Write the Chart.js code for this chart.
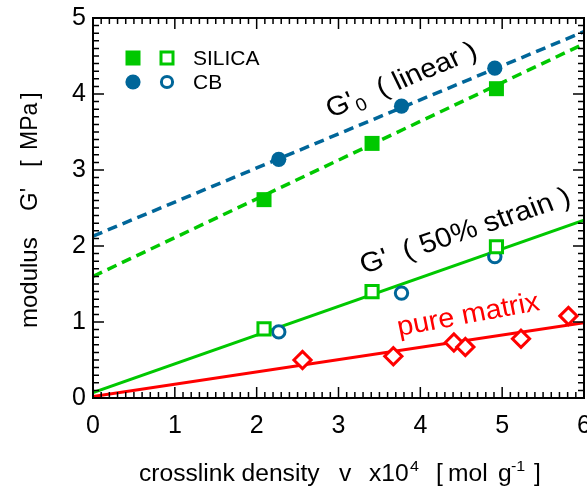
<!DOCTYPE html>
<html>
<head>
<meta charset="utf-8">
<script src="https://cdn.jsdelivr.net/npm/chart.js@4.4.1/dist/chart.umd.min.js"></script>
<style>
  html, body { margin: 0; padding: 0; background: #fff; }
  #wrap { width: 587px; height: 487px; }
</style>
</head>
<body>
<div id="wrap"><canvas id="c" width="587" height="487"></canvas></div>
<script>
// ---- data ----
const silicaG0X  = [2.09, 3.41, 4.93];
const silicaG0Y  = [2.61, 3.35, 4.07];
const cbG0X      = [2.27, 3.77, 4.91];
const cbG0Y      = [3.14, 3.84, 4.34];
const silicaG50X = [2.09, 3.41, 4.93];
const silicaG50Y = [0.91, 1.40, 1.99];
const cbG50X     = [2.27, 3.77, 4.91];
const cbG50Y     = [0.87, 1.38, 1.86];
const matrixX    = [2.56, 3.67, 4.41, 4.55, 5.23, 5.81];
const matrixY    = [0.50, 0.55, 0.73, 0.67, 0.78, 1.08];
// fitted straight lines, given by their values at the ends of the x range
const fitX       = [0, 6];
const cbG0Fit    = [2.13, 4.82];
const silicaG0Fit= [1.60, 4.66];
const g50Fit     = [0.07, 2.34];
const matrixFit  = [0.02, 0.99];
const xTicks     = [0, 1, 2, 3, 4, 5, 6];
const yTicks     = [0, 1, 2, 3, 4, 5];

const GREEN = '#00c800';
const BLUE  = '#006699';
const RED   = '#ff0000';
const FAMILY = '"Liberation Sans", Arial, sans-serif';

const pts = (xs, ys) => xs.map((x, i) => ({ x: x, y: ys[i] }));

const datasets = [
  { data: pts(silicaG0X, silicaG0Y), pointStyle: 'rect', pointRadius: 10.6, backgroundColor: GREEN, borderColor: GREEN, borderWidth: 0, showLine: false },
  { data: pts(cbG0X, cbG0Y), pointStyle: 'circle', pointRadius: 7.6, backgroundColor: BLUE, borderColor: BLUE, borderWidth: 0, showLine: false },
  { data: pts(silicaG50X, silicaG50Y), pointStyle: 'rect', pointRadius: 8.6, backgroundColor: '#fff', borderColor: GREEN, borderWidth: 3, showLine: false },
  { data: pts(cbG50X, cbG50Y), pointStyle: 'circle', pointRadius: 6.2, backgroundColor: '#fff', borderColor: BLUE, borderWidth: 3, showLine: false },
  { data: pts(matrixX, matrixY), pointStyle: 'rectRot', pointRadius: 8.6, backgroundColor: '#fff', borderColor: RED, borderWidth: 3, showLine: false },
  { data: pts(fitX, cbG0Fit), showLine: true, pointRadius: 0, borderColor: BLUE, borderWidth: 3.5, borderDash: [10, 6] },
  { data: pts(fitX, silicaG0Fit), showLine: true, pointRadius: 0, borderColor: GREEN, borderWidth: 3.5, borderDash: [10, 6] },
  { data: pts(fitX, g50Fit), showLine: true, pointRadius: 0, borderColor: GREEN, borderWidth: 3 },
  { data: pts(fitX, matrixFit), showLine: true, pointRadius: 0, borderColor: RED, borderWidth: 3 }
];

// draw a sequence of text runs along a (possibly rotated, horizontally stretched) baseline.
// a run may carry "at": its start offset along the baseline, otherwise it follows the previous run.
function drawRuns(ctx, runs, x, y, angleDeg, sx, color) {
  ctx.save();
  ctx.translate(x, y);
  ctx.scale(sx, 1);
  ctx.rotate(-angleDeg * Math.PI / 180);
  ctx.fillStyle = color;
  ctx.textBaseline = 'alphabetic';
  ctx.textAlign = 'left';
  let cx = 0;
  for (const r of runs) {
    ctx.font = r.size + 'px ' + FAMILY;
    if (r.at !== undefined) cx = r.at;
    ctx.fillText(r.t, cx, r.dy || 0);
    cx += ctx.measureText(r.t).width;
  }
  ctx.restore();
}

const framePlugin = {
  id: 'frame',
  afterDraw(chart) {
    const ctx = chart.ctx;
    const xs = chart.scales.x, ys = chart.scales.y;
    const L = chart.chartArea.left, R = chart.chartArea.right;
    const T = chart.chartArea.top, B = chart.chartArea.bottom;
    ctx.save();
    ctx.strokeStyle = '#000';
    // inward ticks on all four sides
    ctx.lineWidth = 1.5;
    ctx.beginPath();
    for (let i = 0; i <= 60; i++) {
      const v = i / 10;
      const len = (i % 10 === 0) ? 11 : 6;
      const px = xs.getPixelForValue(v);
      ctx.moveTo(px, B); ctx.lineTo(px, B - len);
      ctx.moveTo(px, T); ctx.lineTo(px, T + len);
    }
    for (let i = 0; i <= 50; i++) {
      const v = i / 10;
      const len = (i % 10 === 0) ? 11 : 6;
      const py = ys.getPixelForValue(v);
      ctx.moveTo(L, py); ctx.lineTo(L + len, py);
      ctx.moveTo(R, py); ctx.lineTo(R - len, py);
    }
    ctx.stroke();
    ctx.lineWidth = 2;
    ctx.strokeRect(L, T, R - L, B - T);

    // legend
    ctx.fillStyle = GREEN;
    ctx.fillRect(133 - 7.5, 58 - 7.5, 15, 15);
    ctx.strokeStyle = GREEN; ctx.lineWidth = 3;
    ctx.strokeRect(167 - 6, 58 - 6, 12, 12);
    ctx.fillStyle = BLUE;
    ctx.beginPath(); ctx.arc(133, 82, 7.6, 0, Math.PI * 2); ctx.fill();
    ctx.strokeStyle = BLUE;
    ctx.beginPath(); ctx.arc(167, 82, 5.6, 0, Math.PI * 2); ctx.stroke();
    ctx.fillStyle = '#000';
    ctx.font = '21px ' + FAMILY;
    ctx.textBaseline = 'middle';
    ctx.fillText('SILICA', 193, 59);
    ctx.fillText('CB', 193, 83);
    ctx.restore();

    // annotations
    drawRuns(ctx, [{ t: "G'", size: 27 }, { t: '0', size: 18, dy: 5 }, { t: '  ( linear )', size: 27 }], 331, 118, 24, 1.08, '#000');
    drawRuns(ctx, [{ t: "G'  ( 50% strain )", size: 27.5 }], 364, 274, 20, 1.08, '#000');
    drawRuns(ctx, [{ t: 'pure matrix', size: 27.5 }], 399, 336, 11, 1.05, RED);

    // axis titles
    const sxT = 1.07;
    drawRuns(ctx, [
      { t: 'crosslink density', size: 23, at: 0 },
      { t: 'v', size: 23, at: (339 - 139) / sxT },
      { t: 'x10', size: 23, at: (369 - 139) / sxT },
      { t: '4', size: 15, dy: -10, at: (410 - 139) / sxT },
      { t: '[', size: 23, at: (436 - 139) / sxT },
      { t: 'mol', size: 23, at: (448 - 139) / sxT },
      { t: 'g', size: 23, at: (498 - 139) / sxT },
      { t: '-1', size: 15, dy: -10, at: (511 - 139) / sxT },
      { t: ']', size: 23, at: (534 - 139) / sxT }
    ], 139, 481, 0, sxT, '#000');
    drawRuns(ctx, [
      { t: 'modulus', size: 24, at: 0 },
      { t: "G'", size: 24, at: 328 - 211 },
      { t: '[', size: 24, at: 328 - 167 },
      { t: 'MPa', size: 23, at: 328 - 150 },
      { t: ']', size: 24, at: 328 - 99 }
    ], 37, 328, 90, 1.0, '#000');
  }
};

new Chart(document.getElementById('c').getContext('2d'), {
  type: 'scatter',
  data: { datasets: datasets },
  options: {
    responsive: false,
    animation: false,
    devicePixelRatio: 1,
    layout: { padding: { top: 18, right: 3, left: 0, bottom: 0 }, autoPadding: false },
    plugins: { legend: { display: false }, tooltip: { enabled: false } },
    scales: {
      x: {
        type: 'linear', min: 0, max: 6,
        afterBuildTicks: s => { s.ticks = xTicks.map(v => ({ value: v })); },
        afterFit: s => { s.height = 89; s.paddingLeft = 0; s.paddingRight = 0; },
        grid: { display: false, drawTicks: false },
        border: { display: false },
        ticks: { color: '#000', padding: 13, maxRotation: 0, autoSkip: false, font: { family: FAMILY, size: 25 } }
      },
      y: {
        type: 'linear', min: 0, max: 5,
        afterBuildTicks: s => { s.ticks = yTicks.map(v => ({ value: v })); },
        afterFit: s => { s.width = 93; s.paddingTop = 0; s.paddingBottom = 0; },
        grid: { display: false, drawTicks: false },
        border: { display: false },
        ticks: { color: '#000', padding: 7, autoSkip: false, font: { family: FAMILY, size: 25 } }
      }
    }
  },
  plugins: [framePlugin]
});
</script>
</body>
</html>
